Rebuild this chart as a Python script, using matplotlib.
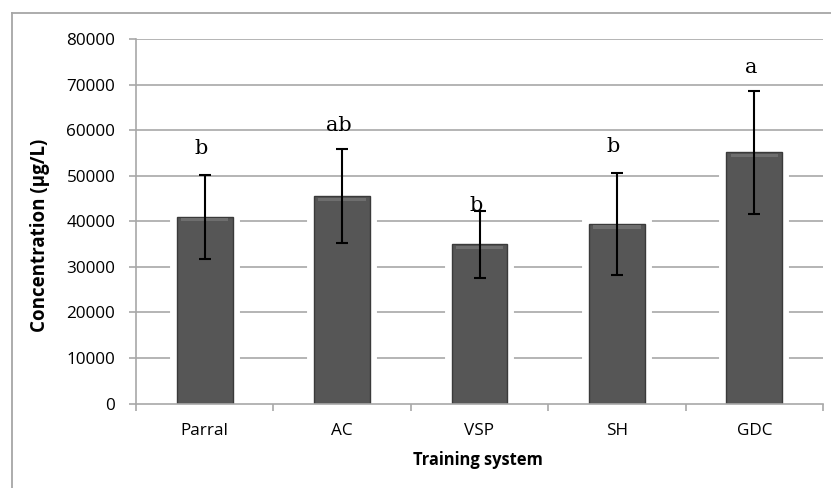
import matplotlib
matplotlib.use("Agg")
import matplotlib.pyplot as plt
import numpy as np

categories = ["Parral", "AC", "VSP", "SH", "GDC"]
values = [41000, 45500, 34900, 39400, 55100]
errors = [9200, 10300, 7300, 11200, 13500]
letters = ["b", "ab", "b", "b", "a"]
letter_y = [54700, 59900, 42200, 55100, 72500]
yticks = [0, 10000, 20000, 30000, 40000, 50000, 60000, 70000, 80000]

W, H = 831, 488
fig = plt.figure(figsize=(W / 100, H / 100), dpi=100)
fig.patch.set_facecolor("white")

# outer chart border (only top and left visible)
fig.add_artist(plt.Line2D([11.5 / W, 11.5 / W], [0, 1 - 13 / H], transform=fig.transFigure,
                          color="#a6a6a6", lw=1.3))
fig.add_artist(plt.Line2D([11.5 / W, 1], [1 - 13 / H, 1 - 13 / H], transform=fig.transFigure,
                          color="#a6a6a6", lw=1.3))

left, right = 136 / W, 823 / W
bottom, top = 1 - 403.5 / H, 1 - 39 / H
ax = fig.add_axes([left, bottom, right - left, top - bottom])

x = np.arange(len(categories))
ax.set_xlim(-0.5, len(categories) - 0.5)
ax.set_ylim(0, 80000)

grid_c = "#a8a8a8"
for t in yticks[1:]:
    ax.axhline(t, color=grid_c, lw=1.2, zorder=1)

bw = 0.405
# white glow behind bars
ax.bar(x, values, width=bw, color="white", edgecolor="white", linewidth=10, zorder=1.5)
ax.bar(x, values, width=bw, color="#565656", edgecolor="#3a3a3a", linewidth=1.0, zorder=2)
# subtle top highlight
ax.bar(x, [700] * len(x), bottom=np.array(values) - 1000, width=bw * 0.85,
       color="#6e6e6e", linewidth=0, zorder=2.1)

ax.errorbar(x, values, yerr=errors, fmt="none", ecolor="black", elinewidth=1.5,
            capsize=4.5, capthick=1.5, zorder=3)

for xi, lt, ly in zip(x, letters, letter_y):
    ax.text(xi - 0.025, ly, lt, ha="center", va="baseline", fontsize=15,
            family="DejaVu Serif", zorder=4)

for s in ["top", "right"]:
    ax.spines[s].set_visible(False)
for s in ["left", "bottom"]:
    ax.spines[s].set_color(grid_c)
    ax.spines[s].set_linewidth(1.2)

ax.set_yticks(yticks)
ax.set_yticklabels([str(t) for t in yticks], fontsize=12.3, family="Open Sans")
ax.set_xticks(np.arange(-0.5, len(categories) + 0.5, 1))
ax.set_xticklabels([])
ax.set_xticks(x, minor=True)
ax.set_xticklabels(categories, minor=True, fontsize=12.3, family="Open Sans")
ax.tick_params(axis="x", which="minor", length=0, pad=14)
ax.tick_params(axis="x", which="major", length=5, color=grid_c, width=1.2)
ax.tick_params(axis="y", length=5, color=grid_c, width=1.2, pad=10)

fig.text(40 / W, 1 - 235 / H, "Concentration (\u00b5g/L)", rotation=90, ha="center",
         va="center", fontsize=13.5, fontweight="bold", family="Open Sans")
fig.text(478 / W, 1 - 460 / H, "Training system", ha="center", va="center",
         fontsize=11.9, fontweight="bold", family="Open Sans")

fig.savefig("out.png", dpi=100, facecolor="white")
